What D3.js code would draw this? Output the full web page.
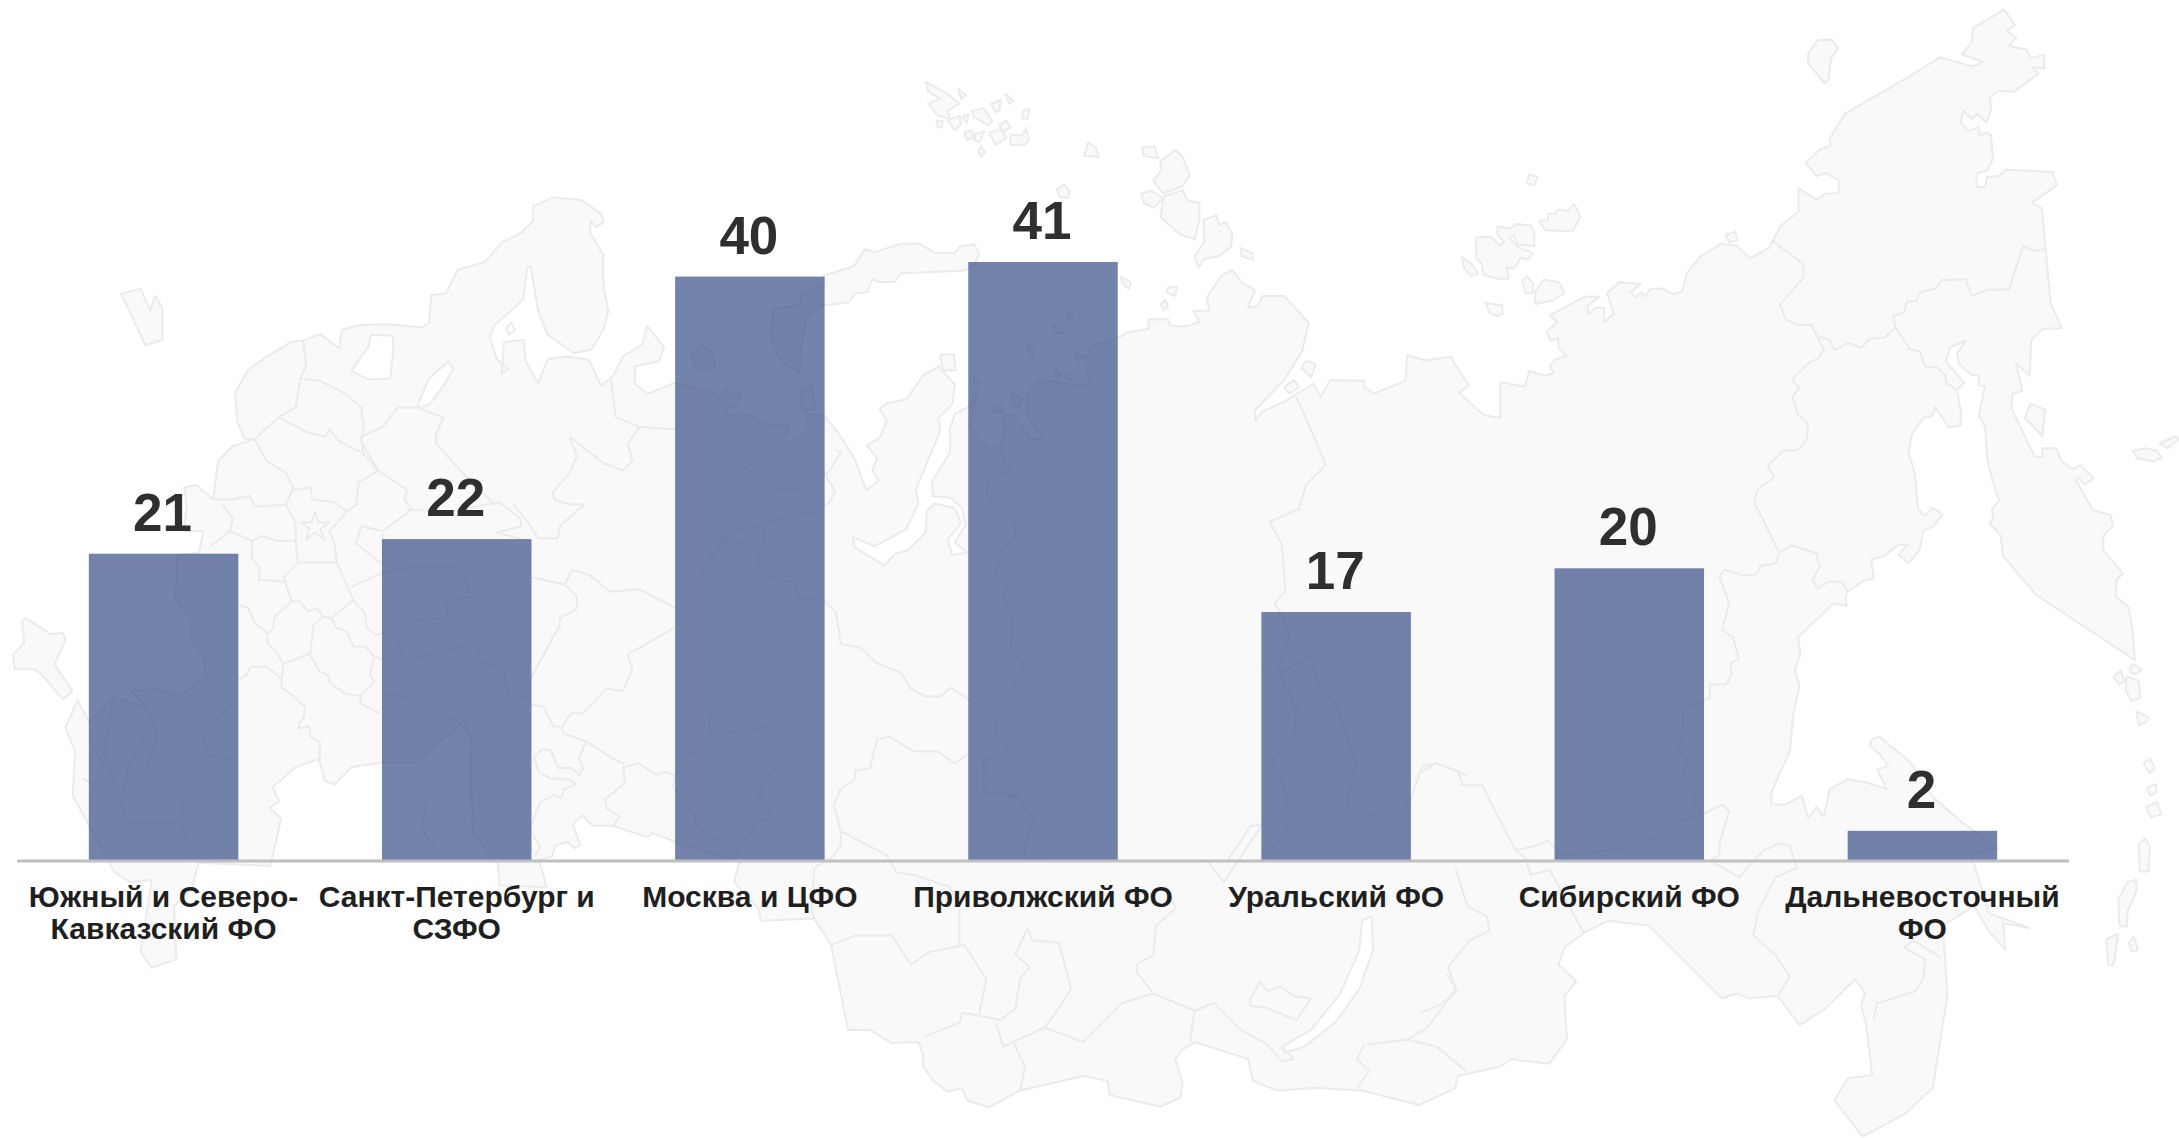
<!DOCTYPE html>
<html>

<head>
    <meta charset="utf-8">
    <script src="https://d3js.org/d3.v7.min.js"></script>
    <style>
        html, body { margin: 0; padding: 0; background: #fff; }
        svg { display: block; }
        text { font-family: "Liberation Sans", Arial, sans-serif; font-weight: bold; }
    </style>
</head>

<body>
    <div id="my_dataviz"></div>

    <script>
        // chart values
        const categories = ["Южный и Северо-\nКавказский ФО", "Санкт-Петербург и\nСЗФО", "Москва и ЦФО",
            "Приволжский ФО", "Уральский ФО", "Сибирский ФО", "Дальневосточный\nФО"];
        const values = [21, 22, 40, 41, 17, 20, 2];

        // background map, traced by hand. points are in zoomed-crop pixels, crop(x0, y0, ...) brings them back to the page
        const cropScale = 1568 / 760;
        const crop = (x0, y0, s) => s.trim().split(/\s+/).map(p => {
            const [a, b] = p.split(",").map(Number);
            return [x0 + a / cropScale, y0 + b / cropScale];
        });
        const A = s => crop(0, 170, s), B = s => crop(710, 60, s), C = s => crop(1419, 0, s),
            D = s => crop(710, 378, s), E = s => crop(1419, 378, s);

        const mainland = [
            ...A(`485,460 510,415 550,385 600,355 625,352 660,338 700,368 705,330 740,320 800,318 870,325 885,315 890,258 920,255 945,205 1000,190 1035,150 1075,130 1100,105 1100,75 1140,57 1200,62 1240,90 1245,108 1230,118 1218,105 1218,130 1245,175 1245,240 1255,290 1245,330 1220,370 1185,378 1130,340 1110,290 1095,200 1088,200 1080,265 1050,295 1020,320 1010,345 1025,390 1048,410 1035,420 1040,355 1080,350 1085,395 1110,440 1130,390 1175,385 1215,392 1240,445 1265,425 1285,385 1325,360 1335,322 1370,365 1360,395 1310,405 1310,440 1335,462 1393,439`),
            ...B(`10,688 18,699 30,681 65,692 53,716 30,719 42,733 81,733 109,750 160,754 160,771 144,781 156,791 184,781 196,771 200,730 235,733 265,770 300,825 322,888 348,868 335,845 345,822 323,795 350,780 365,745 350,720 365,708 405,700 440,650 472,632 505,670 500,710 470,740 475,765 425,885 430,915 405,968 340,1003 295,985 298,1005 360,1043 380,1020 410,1010 445,975 447,930 465,915 505,925 518,955 490,990 500,1022 530,1016 505,995 527,960 520,925 497,903 460,900 458,870 495,810 495,760 505,730 535,715 553,682 535,755 580,808 605,790 605,735 630,732 660,782 688,782 655,735 655,680 680,660 770,672 785,665 772,620 790,590 840,575 860,562 905,555 905,535 945,535 950,548 980,550 1010,540 998,518 1030,517 1025,490 1055,445 1077,433 1098,460 1125,475 1110,510 1130,508 1140,487 1185,487 1235,542 1222,600 1185,660 1125,722 1125,745 1140,725 1185,705 1225,680 1245,668 1260,695 1280,660 1350,662 1350,675 1370,688 1435,662 1438,608 1475,620 1530,612`),
            ...C(`70,745 103,795 82,810 135,857 168,862 168,788 218,798 228,765 258,775 278,770 270,755 280,742 305,735 288,717 287,697 272,703 263,685 285,665 270,650 342,612 372,612 347,632 350,648 365,635 382,635 382,665 402,647 388,605 413,582 457,586 437,603 447,613 458,603 467,612 477,596 503,595 523,607 543,602 552,565 580,530 622,503 655,507 683,533 722,512 745,467 783,437 783,388 820,412 838,400 865,398 868,373 840,357 820,363 798,335 828,308 850,300 847,287 878,235 1000,165 1075,118 1143,137 1163,128 1120,112 1140,88 1143,58 1207,20 1230,52 1213,63 1232,78 1217,95 1253,102 1262,120 1290,113 1290,142 1265,138 1278,152 1227,190 1195,187 1178,202 1180,228 1170,253 1152,235 1140,245 1123,228 1118,253 1133,270 1155,262 1157,280 1170,273 1180,278 1184,328 1172,352 1150,358 1150,385 1168,387 1172,365 1197,363 1210,350 1307,355 1316,382 1265,418 1285,430 1293,515 1303,625 1326,677 1286,679 1263,703 1260,775 1232,750 1245,807 1225,812 1222,842 1270,942 1285,943 1287,925 1315,925 1325,950 1348,968 1365,960 1392,987 1372,1000 1362,985 1355,990 1390,1052 1427,1063 1432,1085 1412,1105 1412,1135 1453,1183 1440,1195 1437,1230 1464,1253 1472,1300 1477,1362 1273,1227 1205,1147 1200,1105 1178,1080 1185,1068 1182,1050 1197,1033 1184,995 1172,945 1168,880 1155,857 1168,797 1155,795 1155,775 1140,773 1115,752 1110,730 1128,703 1095,717 1087,745 1125,790 1110,805 1118,850 1117,878 1093,882 1065,840 1058,860 1042,860 1017,895 1010,933 1023,978 1030,1050 1043,1065 1060,1047 1080,1062 1060,1087 1040,1095 1033,1135 1010,1162 990,1145 1008,1123 987,1125 963,1145 933,1155 938,1193 918,1198 885,1220 880,1232 882,1250 855,1245 782,1315`),
            ...E(`787,570 775,602 785,635 773,690 765,770 727,855 727,880 755,880 790,862 803,908 820,885 835,905 848,848 885,828 925,835 965,848 945,808 968,800 950,775 930,758 935,745 950,740 1015,794 1060,864 1114,912 1194,970 1140,985 1176,1104 1260,1135 1205,1125 1210,1180 1175,1140 1145,1090 1080,1130 1085,1190 1090,1275 1075,1370 1060,1465 1000,1520 915,1565 857,1490 885,1445 935,1438 922,1330 912,1295 920,1270 900,1240 840,1300 785,1335 740,1275 680,1280 655,1270 625,1280 475,1130 390,1120 340,1145 300,1175 288,1210 325,1245 300,1275 305,1365 268,1415 190,1405 170,1420 80,1440 75,1465 0,1500`),
            ...D(`1345,1470 1250,1465 1170,1470 1120,1450 1110,1405 1000,1370 975,1385 960,1405 975,1455 970,1485 930,1503 825,1480 820,1450 770,1440 640,1470 575,1505 530,1490 520,1465 490,1472 460,1450 440,1420 440,1395 430,1370 375,1372 330,1345 285,1345 250,1170 215,1115 105,1120 100,1095 50,1040 60,1000`),
            ...A(`1530,1430 1393,1386 1347,1368 1335,1376 1265,1353 1223,1353 1201,1331 1182,1351 1197,1392 1186,1399 1170,1387 1145,1393 1139,1417 1112,1423 1128,1480 1031,1476 1027,1432 976,1367 971,1179 958,1136 884,1200 857,1222 790,1222 725,1232 690,1268 670,1260 658,1215 608,1233 576,1262 562,1273 576,1302 557,1316 580,1338 562,1418 557,1436 410,1429 396,1483 359,1519 364,1628 313,1646 290,1613 313,1465 267,1469 235,1447 150,1290 155,1200 135,1150 160,1095 185,1140 235,1085 270,1100 305,1110 270,1075 320,1070 370,1085 425,1045 420,1000 395,970 395,930 360,880 365,850 365,795 410,790 420,745 380,745 385,690 380,655 405,650 440,680 445,640 450,600 480,570 525,555 505,555 490,520`)
        ];

        const islands = [
            A(`27,1000 50,975 45,930 55,925 105,958 130,955 135,970 112,1020 150,1075 130,1092 85,1040 70,1030 30,1030`),
            A(`250,255 290,245 310,290 320,260 335,285 335,350 300,362`),
            A(`1425,380 1450,362 1470,375 1475,410 1435,412`),
            B(`125,550 135,552 135,578 125,578`),
            B(`185,680 210,675 218,720 190,722`),
            B(`130,515 185,505 190,480 235,462 235,445 297,425 320,390 340,397 390,380 430,378 465,398 505,398 515,385 545,380 555,400 545,425 520,435 395,440 380,458 350,458 335,452 325,478 300,482 285,500 250,505 235,505 200,530 190,580 185,645 150,625 130,590`),
            B(`475,608 503,607 507,640 480,640`), B(`545,658 560,665 555,675 545,670`), B(`708,545 730,565 715,565`),
            B(`735,525 747,525 740,540`), B(`653,590 670,590 665,610`), B(`710,635 725,650 715,655`),
            B(`735,645 745,660 733,655`), B(`755,605 772,610 760,622`), B(`625,685 645,700 635,718 620,705`),
            B(`580,720 605,708 605,725 585,728`),
            B(`445,45 490,70 515,90 490,105 495,122 470,115 450,90 475,80 450,65`),
            B(`512,60 528,72 518,80`), B(`540,105 565,100 582,125 575,135 545,118`), B(`580,90 600,82 597,105 590,108`),
            B(`610,70 627,85 617,90`), B(`645,105 660,100 655,122 645,120`), B(`490,125 515,115 518,132 505,145`),
            B(`520,118 533,112 530,130`), B(`467,125 480,127 478,140 470,138`), B(`525,150 540,145 545,160 530,165`),
            B(`548,152 567,147 555,170 545,165`), B(`575,150 600,142 612,160 590,175`), B(`597,135 612,125 620,140 605,148`),
            B(`620,155 645,155 652,140 658,165 650,175 620,175`), B(`560,178 567,190 560,200 553,188`),
            B(`780,170 795,180 802,200 772,198`), B(`892,180 917,178 925,203 895,198`),
            B(`960,185 975,200 990,238 975,260 935,275 915,250 932,225 928,210`),
            B(`935,282 975,268 985,290 1010,295 1010,330 1000,370 970,360 930,325`),
            B(`890,275 910,270 935,285 915,305 895,295`),
            B(`1000,405 1020,375 1018,330 1045,320 1050,340 1065,335 1078,360 1075,385 1050,405 1020,410 1008,428`),
            B(`1095,388 1120,400 1120,412 1097,405`), B(`848,447 868,460 865,473 850,460`), B(`945,470 963,468 960,487 942,480`),
            B(`930,505 940,495 945,510 937,515`), B(`715,268 730,257 742,270 738,285 722,282`),
            B(`1220,635 1230,620 1250,628 1240,655`), B(`1185,675 1205,660 1215,675 1195,688`),
            C(`803,110 822,83 852,82 865,100 850,120 845,165 837,172 803,130`), C(`222,378 228,360 245,365 238,382`),
            C(`248,455 265,455 267,442 283,440 287,432 308,435 320,420 333,447 317,477 260,475`),
            C(`118,490 148,488 168,507 175,498 162,485 162,467 187,472 200,462 230,465 238,478 238,508 205,505 195,485 185,490 205,510 235,522 225,535 210,532 197,553 182,552 185,575 160,575 133,567 130,545 118,532`),
            C(`88,530 108,545 122,565 107,570 93,553`), C(`222,570 236,585 234,605 220,605 213,580`),
            C(`258,577 290,583 300,605 275,620 240,627 240,600`), C(`138,625 172,630 172,648 160,652 145,645`),
            C(`633,485 652,478 658,495 640,500`), C(`1262,833 1292,845 1286,900 1250,862`),
            C(`1472,930 1500,925 1522,930 1532,945 1515,952 1482,945`), C(`1528,915 1560,900 1568,905 1545,925`),
            C(`1468,1375 1475,1370 1492,1382 1480,1390 1468,1388`), C(`1433,1397 1448,1383 1455,1405 1445,1412`),
            C(`1460,1395 1485,1405 1488,1440 1470,1447 1458,1425`), C(`1480,1467 1505,1480 1500,1490 1485,1497`),
            E(`1495,795 1508,785 1518,805 1507,815`), E(`1502,845 1520,838 1522,855 1508,862`),
            E(`1500,885 1522,875 1532,900 1510,907`), E(`1485,962 1498,950 1508,965 1505,1018 1487,1018`),
            E(`1462,1040 1480,1035 1480,1060 1462,1100 1460,1132 1445,1130 1443,1075`),
            E(`1418,1158 1442,1147 1436,1195 1432,1212 1422,1210`), E(`1465,1165 1475,1153 1483,1180 1470,1183`)
        ];

        const lakes = [
            A(`860,490 885,430 925,395 935,410 915,445 885,485`),
            A(`725,415 760,365 765,340 810,342 812,370 805,430 760,432`),
            A(`1045,325 1055,315 1062,330 1050,340`),
            D(`1180,1380 1240,1345 1300,1270 1340,1180 1345,1120 1365,1110 1368,1180 1340,1260 1290,1330 1225,1380 1185,1392`)
        ];

        // region borders inside the land
        const borders = [
            A(`625,352 632,400 620,430 610,490 575,510 525,555`),
            A(`620,430 660,435 710,460 745,490 750,530 745,560 780,620 740,645 735,690 715,705`),
            A(`575,510 630,540 670,550 680,535 700,560 750,585 780,620`),
            A(`525,555 550,600 590,625 605,655 590,690 610,730 610,770 615,810 585,840 602,890 567,921 564,945 552,956 552,976 574,1000 585,1019 640,997 647,939 667,921 684,925 729,887 695,810 690,770 680,745 715,705 690,685 645,680 640,655 605,660`),
            A(`440,680 480,680 515,672 525,695 590,690`),
            A(`460,690 480,720 475,745 435,775`),
            A(`475,745 520,765 540,755 570,765 610,765`),
            A(`520,765 520,800 535,820 535,845 585,850`),
            A(`492,897 512,904 526,935 552,956`),
            A(`615,810 695,810`),
            A(`602,890 619,890 636,911 653,904 667,921`),
            A(`585,1019 581,1049 550,1025 516,1025 509,1042 492,1052`),
            A(`581,1049 581,1069 602,1083 629,1107 627,1128 617,1142 617,1152 638,1148 640,1169 660,1181 660,1214`),
            A(`640,1000 660,1035 677,1042 681,1059 712,1080 744,1085 772,1056 763,1042 772,1004 753,983 729,983 715,952 695,945 684,925`),
            A(`729,887 753,915 756,945 774,959 805,952`),
            A(`772,1004 791,1011`),
            A(`744,1085 744,1100 784,1121`),
            A(`780,620 840,660 835,680 850,700 790,745 745,735 735,770 790,815 790,750`),
            A(`840,700 930,705 1030,685 1075,720 1075,735 1025,748 1090,765`),
            A(`725,860 790,830 850,820 950,820 975,880 920,890 925,945 905,925 860,930 815,965 835,1015 885,1000 985,975 990,1015 1040,1030 1050,1095 1090,1085`),
            A(`750,590 745,550 790,530 820,490 860,490 915,510 900,545 900,565 950,620 1020,690`),
            A(`1175,550 1190,590 1175,625 1140,665 1145,680 1175,690 1205,690 1155,735 1150,760 1110,760 1095,735 1060,690`),
            A(`1175,550 1245,605 1285,620 1305,600 1295,565 1320,530 1270,510 1260,425`),
            A(`1320,530 1395,535`),
            A(`1095,840 1165,855 1190,880 1190,905 1155,925 1155,940 1140,965 1095,1050`),
            A(`1165,855 1180,825 1215,835 1260,870 1320,865 1395,905`),
            A(`1097,1103 1121,1107 1142,1148 1159,1148 1179,1121 1203,1121 1231,1093 1250,1070 1285,1075 1305,1030 1295,1000 1390,945`),
            A(`1159,1151 1162,1162 1210,1179 1269,1217 1286,1224 1289,1265 1248,1299 1252,1317 1279,1334 1265,1353`),
            A(`1289,1231 1317,1224 1355,1248 1372,1241 1393,1251 1389,1272 1406,1299 1431,1327 1437,1348 1462,1375 1486,1382 1506,1409 1527,1413`),
            A(`1209,1179 1195,1213 1203,1234 1195,1248 1179,1234 1152,1234 1142,1210 1135,1196 1117,1196 1102,1213 1111,1241 1135,1255 1176,1258 1188,1268 1162,1279 1159,1296 1142,1289 1114,1306 1100,1341 1097,1348`),
            A(`1100,1372 1114,1396 1104,1416`),
            A(`1596,1138 1561,1155 1534,1162 1503,1158 1472,1176 1462,1148 1468,1114 1437,1093`),
            A(`1472,1176 1451,1200 1410,1203 1396,1248`),
            A(`1603,1234 1578,1258 1565,1296 1589,1313 1585,1341 1561,1344 1544,1375 1517,1406`),
            A(`305,1110 325,1170 305,1230 375,1300 375,1360 395,1400 380,1425`),
            A(`250,1310 265,1230 300,1170`),
            A(`235,1085 215,1200 240,1270 185,1180`),
            A(`170,1255 215,1280 255,1310 255,1345 375,1350`),
            A(`490,1090 420,1165 430,1210 490,1215`),
            A(`790,1080 850,1090 880,1110 950,1140 970,1170 970,1300`),
            A(`880,1300 870,1360 900,1400`),
            A(`1395,885 1450,830 1490,760 1540,770`),
            B(`0,790 135,885 180,885 215,865 245,850 270,810 260,805`),
            B(`235,850 258,890 245,915 210,935 160,940 110,960 50,970 0,1030`),
            B(`110,960 115,1010 95,1030 115,1065 170,1075 185,1110 235,1115 260,1140 270,1205 310,1212 345,1245 395,1265 412,1295 445,1313 475,1313 497,1295 535,1320 570,1340 590,1360 592,1400 620,1410 600,1435 565,1445 575,1480 565,1510 630,1520 670,1570`),
            B(`590,1360 650,1250 620,1210 625,1150 605,1110 615,1090 590,1060 600,1015 630,985 628,940 600,930 570,895 575,860 620,850 600,810 605,770 630,732`),
            D(`265,850 297,830 300,810 330,805 345,745 370,740 420,770 470,770 505,795 535,775 565,790 565,850 630,860 670,910 650,960 650,990 690,995`),
            D(`270,850 255,880 270,935 270,965 250,990 215,1010 210,1100 215,1115`),
            D(`270,935 365,985 385,1020 420,1025 495,1050 515,1090 515,1170`),
            D(`250,1170 300,1150 375,1150 415,1210 450,1185 525,1170 570,1240 555,1315 520,1310 515,1330 440,1360`),
            D(`555,1315 600,1325 630,1300 640,1240 660,1215 630,1190 655,1135 665,1160 720,1165 745,1260 720,1300 690,1340 770,1370 850,1290 915,1270 880,1225 880,1210 915,1190 920,1130 960,1095 940,1045`),
            D(`590,1330 605,1380 625,1370 690,1340`),
            D(`625,1370 650,1420 640,1470`),
            D(`915,1270 1000,1305 990,1370`),
            D(`1000,1305 1040,1290 1095,1345 1150,1375 1180,1410 1205,1405 1180,1380`),
            D(`1115,1280 1135,1245 1150,1265 1175,1255 1205,1275 1240,1280 1210,1325 1150,1300 1115,1295 1115,1280`),
            D(`1025,995 1060,1040 1140,920 1115,925 1065,1000`),
            D(`1140,600 1180,605 1240,575 1255,630 1290,670 1305,720 1335,795 1315,860 1315,890 1340,915 1405,880 1425,895 1445,870 1470,800 1500,795 1560,820`),
            D(`1210,40 1250,130 1270,180 1230,220 1215,270 1155,297 1180,345 1187,440 1165,465 1180,490 1195,530 1170,600 1210,680 1205,740 1160,790 1195,870 1175,905 1195,930 1140,990`),
            D(`1355,1375 1440,1365 1500,1380 1560,1430`),
            D(`1350,1375 1335,1405 1360,1430 1335,1465`),
            D(`1520,1230 1540,1260 1480,1340 1440,1365`),
            E(`0,815 35,795 80,810 90,840 130,840 150,880 200,975 240,965 265,955 300,985 430,970 500,945 530,915 585,900 625,880 640,895 620,960 620,985 600,995 660,1030 710,975 745,960 765,965 780,1010 735,1030 700,1100 690,1150 735,1190 765,1235 740,1275`),
            E(`200,975 220,990 230,1025 270,1015 340,1145`),
            E(`75,1010 100,1090 140,1110 145,1140 105,1160 60,1215 78,1265 40,1295 0,1310`),
            E(`530,765 555,785 545,815 578,850 565,872 585,900`),
            E(`1000,1175 1045,1200 1040,1240 1025,1265 945,1290 938,1325`),
            E(`1000,1175 1020,1160 1075,1195`),
            C(`730,497 793,545 793,573 745,628 757,660 783,670 810,670 835,722 823,740 805,748 770,782 785,802 770,818 782,855 803,875 800,908 782,928 752,930 720,960 733,985 698,1010 692,1037 743,1140 737,1162 705,1167 695,1185 670,1188 630,1175 620,1190 640,1245 625,1300 648,1315 660,1360 643,1368 645,1390 635,1412 600,1412 600,1440 545,1462 543,1530 530,1545`),
            C(`743,1140 768,1125 820,1142 827,1170 812,1195 822,1215 845,1200 873,1200 885,1222`),
            C(`825,695 845,700 858,722 885,708 912,717 932,698 960,697 983,675 1012,720 1033,725 1045,757 1068,757 1085,773 1088,790 1110,805`),
            C(`983,675 978,652 1000,645 1007,622 1027,620 1033,603 1068,595 1077,578 1128,576 1140,610 1175,598 1217,597 1247,507 1268,518 1293,513`)
        ];

        // set the dimensions of the graph
        const width = 2179, height = 1138;
        const baseline = 860;

        const svg = d3.select("#my_dataviz")
            .append("svg")
            .attr("width", width)
            .attr("height", height);

        // map goes first, the bars sit on top of it
        const outline = d3.line().curve(d3.curveLinearClosed);
        const open = d3.line();
        const map = svg.append("g")
            .attr("stroke", "#ebebeb")
            .attr("stroke-width", 2)
            .attr("stroke-linejoin", "round");

        map.selectAll(".land")
            .data([mainland, ...islands])
            .join("path")
            .attr("class", "land")
            .attr("fill", "#f9f9f9")
            .attr("d", outline);

        map.selectAll(".lake")
            .data(lakes)
            .join("path")
            .attr("class", "lake")
            .attr("fill", "#fff")
            .attr("d", outline);

        map.selectAll(".border")
            .data(borders)
            .join("path")
            .attr("class", "border")
            .attr("fill", "none")
            .attr("d", open);

        // Moscow star
        map.append("path")
            .attr("fill", "none")
            .attr("transform", "translate(315,527)")
            .attr("d", d3.symbol(d3.symbolStar, 260));

        // X axis
        const x = d3.scaleBand()
            .domain(categories)
            .range([17, 2069])
            .paddingInner(0.49)
            .paddingOuter(0.245);

        // Y axis is not drawn, only the scale
        const y = d3.scaleLinear()
            .domain([0, 41])
            .range([baseline, 262]);

        // bars
        svg.selectAll(".bar")
            .data(values)
            .join("rect")
            .attr("class", "bar")
            .attr("x", (d, i) => x(categories[i]))
            .attr("y", d => y(d))
            .attr("width", x.bandwidth())
            .attr("height", d => y(0) - y(d))
            .attr("fill", "#384f87")
            .attr("fill-opacity", 0.7);

        // values over the bars
        svg.selectAll(".value")
            .data(values)
            .join("text")
            .attr("class", "value")
            .attr("x", (d, i) => x(categories[i]) + x.bandwidth() / 2 - 1)
            .attr("y", d => y(d) - 23)
            .attr("text-anchor", "middle")
            .attr("font-size", 53)
            .attr("fill", "#2f2f2f")
            .text(d => d);

        const axis = svg.append("g")
            .attr("transform", `translate(0,${baseline + 1})`)
            .call(d3.axisBottom(x).tickSize(0).tickFormat("").offset(0));
        axis.select(".domain")
            .attr("stroke", "#bfbfbf")
            .attr("stroke-width", 3);

        // category labels, some of them on two lines
        const labels = axis.selectAll(".tick").append("text")
            .attr("fill", "#1f1f1f")
            .attr("font-size", 30)
            .attr("text-anchor", "middle")
            .attr("y", 46);
        labels.selectAll("tspan")
            .data(d => d.split("\n"))
            .join("tspan")
            .attr("x", 0)
            .attr("dy", (d, i) => i ? 32 : 0)
            .text(d => d);
    </script>
</body>

</html>
